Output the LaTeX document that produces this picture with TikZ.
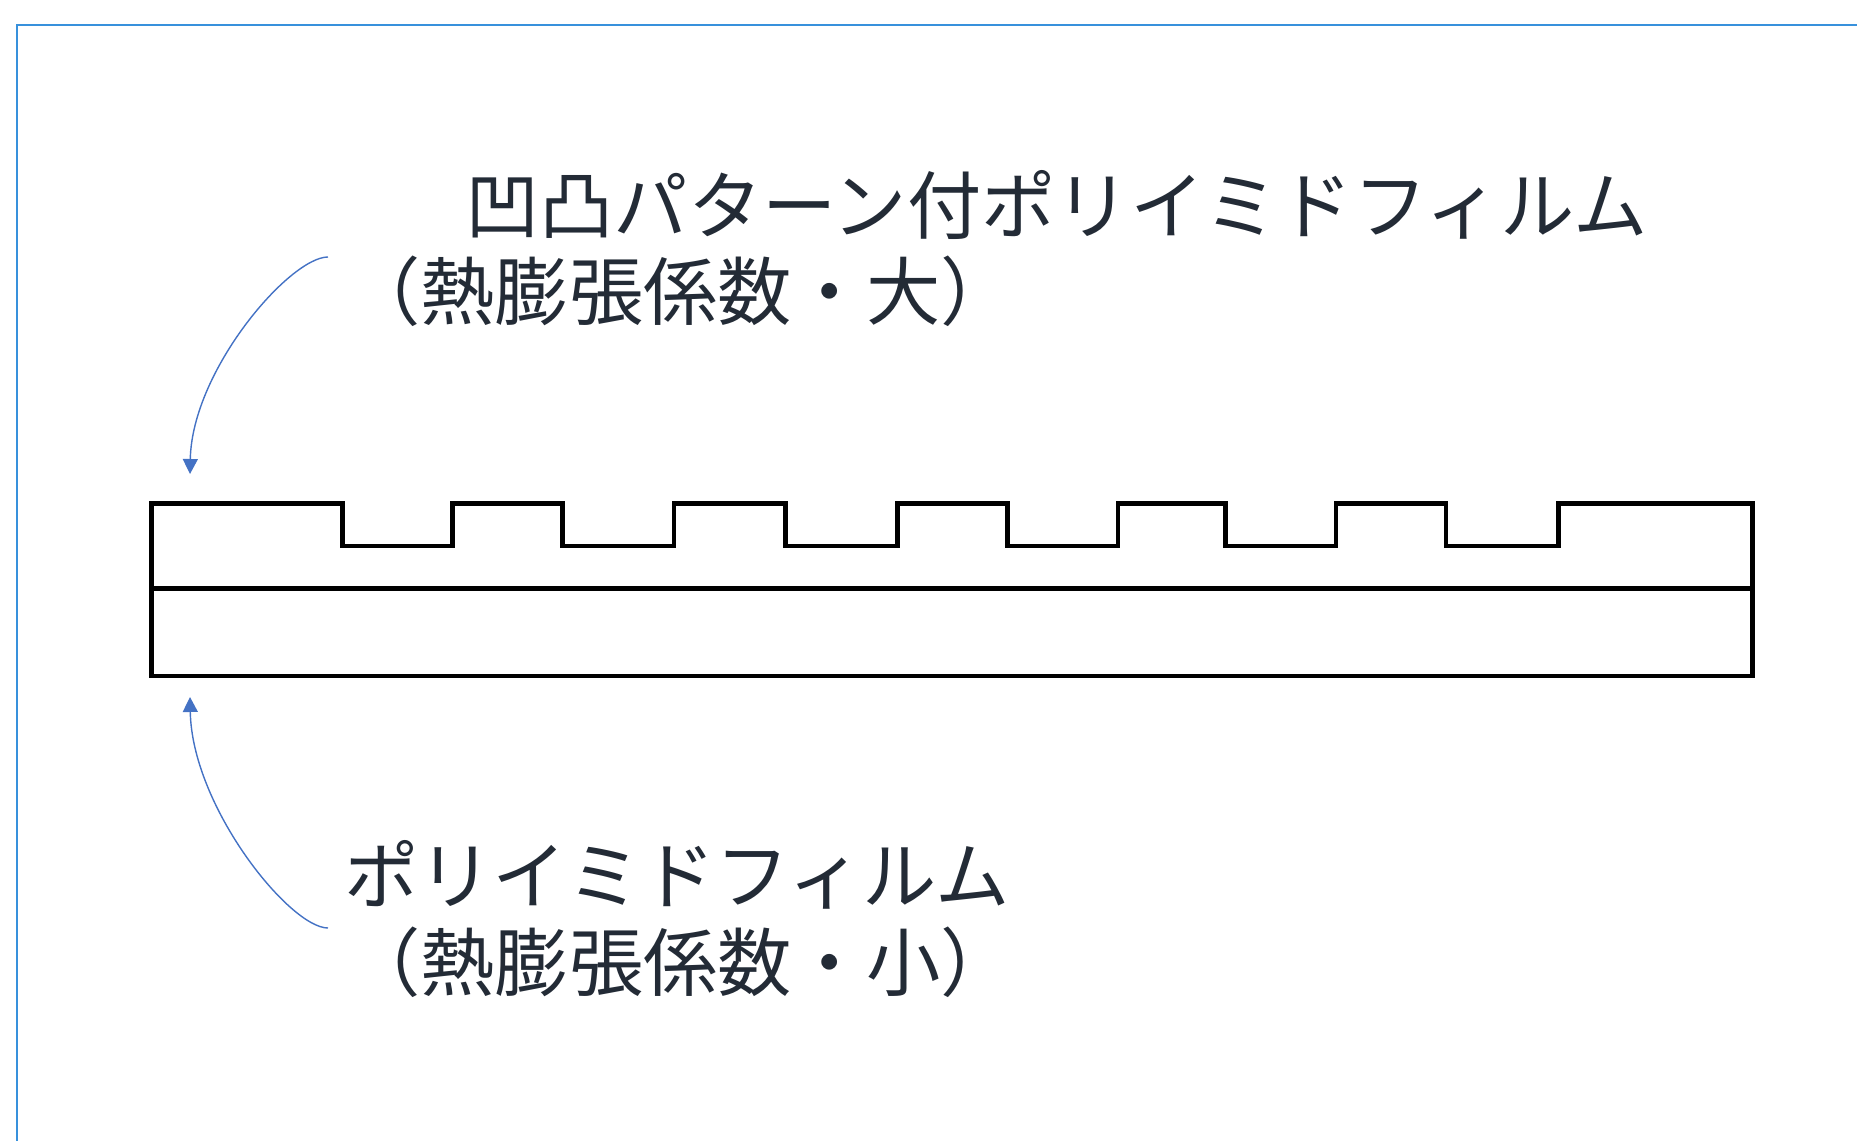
\documentclass[tikz,border=0pt]{standalone}
\usepackage{fontspec}
\newfontfamily\cjk{Noto Sans CJK JP}
\usetikzlibrary{arrows.meta}
\definecolor{txtc}{RGB}{35,43,54}
\definecolor{framec}{RGB}{56,145,220}
\definecolor{arrc}{RGB}{68,114,196}
\tikzset{
  lbl/.style={anchor=west, inner sep=0pt, text=txtc, font=\cjk\fontsize{74.3}{80}\selectfont},
  film/.style={draw=black, line width=4.8pt, line join=miter},
  pointer/.style={draw=arrc, line width=1.4pt, -{Triangle[width=15pt,length=15pt]}}
}
\begin{document}
\begin{tikzpicture}[x=1pt,y=-1pt]
\useasboundingbox (0,0) rectangle (1857,1140);
% frame
\draw[framec, line width=2.6pt] (17,1160) -- (17,25) -- (1880,25);
% film with pattern
\draw[film] (151.6,503.3) -- (342.3,503.3) -- (342.3,546) -- (452.4,546) -- (452.4,503.3)
  -- (562.5,503.3) -- (562.5,546) -- (673.9,546) -- (673.9,503.3)
  -- (785.2,503.3) -- (785.2,546) -- (897.7,546) -- (897.7,503.3)
  -- (1007.8,503.3) -- (1007.8,546) -- (1118,546) -- (1118,503.3)
  -- (1225.8,503.3) -- (1225.8,546) -- (1335.9,546) -- (1335.9,503.3)
  -- (1446,503.3) -- (1446,546) -- (1558.5,546) -- (1558.5,503.3)
  -- (1752.8,503.3) -- (1752.8,676) -- (151.6,676) -- cycle;
\draw[film] (151.6,588.6) -- (1752.8,588.6);
% labels
\node[lbl] (t1) at (465,205) {凹凸パターン付ポリイミドフィルム};
\node[lbl] (t2) at (346,291) {（熱膨張係数・大）};
\node[lbl] (b1) at (344,875) {ポリイミドフィルム};
\node[lbl] (b2) at (346,962) {（熱膨張係数・小）};
% pointers
\coordinate (ts) at (328,257);
\coordinate (tt) at (190,474);
\coordinate (bs) at (328,928);
\coordinate (bt) at (190,697);
\draw[pointer] (ts) .. controls (290,257) and (192,370) .. (tt);
\draw[pointer] (bs) .. controls (290,928) and (192,807) .. (bt);
\end{tikzpicture}
\end{document}
